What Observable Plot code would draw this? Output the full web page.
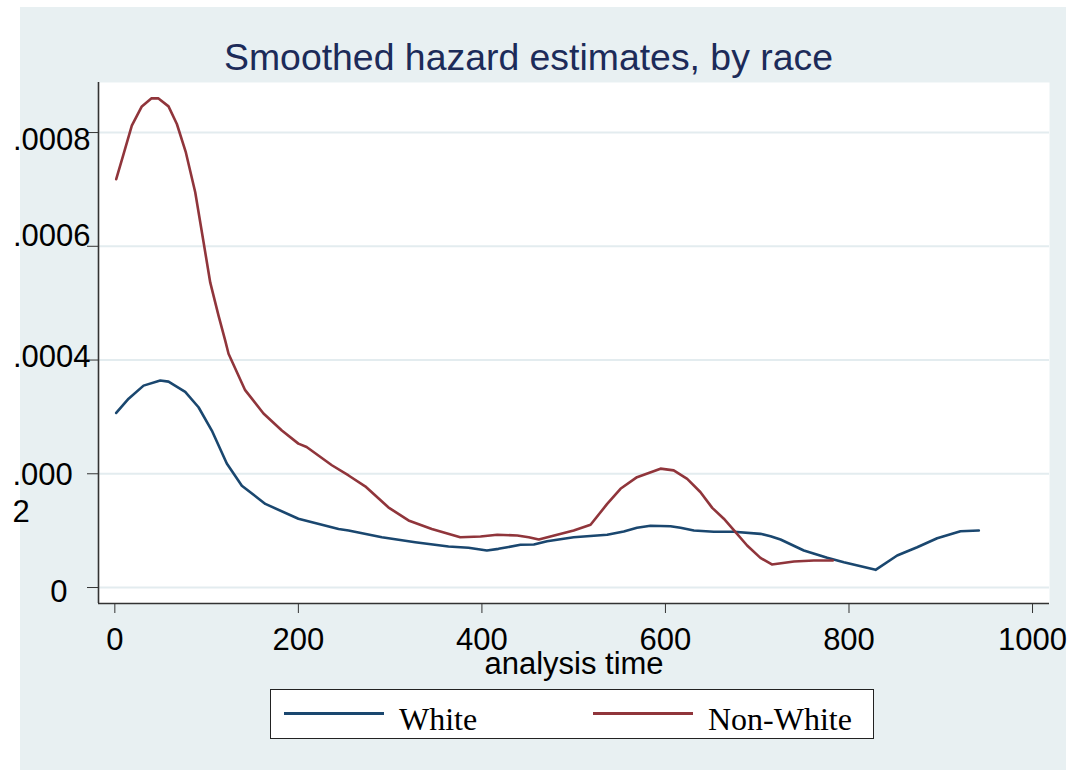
<!DOCTYPE html>
<html>
<head>
<meta charset="utf-8">
<script src="https://cdn.jsdelivr.net/npm/d3@7"></script>
<script src="https://cdn.jsdelivr.net/npm/@observablehq/plot@0.6"></script>
<style>
  html, body { margin: 0; padding: 0; background: #ffffff; }
  body { width: 1076px; height: 772px; position: relative; overflow: hidden; font-family: "Liberation Sans", Arial, sans-serif; }
  #panel { position: absolute; left: 20px; top: 7px; width: 1046px; height: 763px; background: #e8f0f2; }
  #title { position: absolute; left: 0; top: 32px; width: 1017px; text-align: center; font-size: 37.4px; line-height: 37px; color: #1c2b59; white-space: nowrap; }
  #chart { position: absolute; left: 0; top: 55px; }
  #legend { position: absolute; left: 250px; top: 682px; width: 604px; height: 50px; box-sizing: border-box; background: #fff; border: 1.5px solid #222; }
  .lg-line { position: absolute; height: 3px; top: 22px; width: 100px; }
  .lg-text { position: absolute; top: 12.7px; font-family: "Liberation Serif", "Times New Roman", serif; font-size: 32px; line-height: 32px; color: #000; white-space: nowrap; }
</style>
</head>
<body>
<div id="panel">
  <div id="title">Smoothed hazard estimates, by race</div>
  <div id="chart"></div>
  <div id="legend"></div>
</div>
<script>
// ---- data ----
const seriesNames = ["White", "Non-White"];
const seriesColors = ["#1a476f", "#90353b"];

const whiteTime = [1.5, 15, 31.3, 49.5, 58.5, 76.7, 91.2, 105.7, 122, 138.4, 164, 200, 243.8, 254.7, 291, 327.3, 363.6, 385.4, 405.4, 418, 427.6, 442, 456.6, 471, 500, 536.5, 554.6, 569, 583.7, 605.5, 616.4, 631, 652.7, 674.5, 703.6, 714.5, 725.4, 750.8, 776.3, 794.4, 829, 852.5, 874.3, 896.1, 921.5, 941.5];
const whiteHazard = [0.000307, 0.000332, 0.000355, 0.000364, 0.000362, 0.000344, 0.000317, 0.000276, 0.000218, 0.000179, 0.000147, 0.000121, 0.000103, 0.0001003, 0.0000885, 0.0000797, 0.0000721, 0.0000698, 0.0000651, 0.000068, 0.0000709, 0.0000751, 0.0000756, 0.0000814, 0.0000885, 0.0000927, 0.0000985, 0.000105, 0.0001085, 0.0001078, 0.000105, 0.0001003, 0.000098, 0.000098, 0.0000944, 0.0000903, 0.0000844, 0.0000651, 0.0000522, 0.0000445, 0.0000311, 0.0000563, 0.0000709, 0.0000867, 0.000099, 0.0001003];

const nonWhiteTime = [1.5, 9.5, 18.5, 29.4, 39.7, 47.6, 58.5, 67.6, 77.4, 87.6, 96.7, 104, 113, 120.3, 123.9, 142, 162, 182, 200, 209, 236.5, 254.7, 272.8, 298, 320, 345.4, 376.4, 398.5, 416.7, 438.5, 451, 462, 482, 500, 518.4, 536.5, 551, 569, 594.6, 609, 623.7, 638, 651, 663.6, 674.5, 689, 703.5, 716, 740, 761.7, 782.4];
const nonWhiteHazard = [0.000718, 0.000762, 0.000812, 0.000846, 0.00086, 0.00086, 0.000846, 0.000815, 0.000765, 0.000695, 0.000607, 0.000536, 0.000478, 0.000434, 0.000411, 0.000347, 0.000306, 0.000276, 0.000253, 0.000247, 0.000215, 0.000197, 0.000178, 0.000141, 0.000118, 0.000103, 0.0000885, 0.0000897, 0.0000927, 0.0000915, 0.0000885, 0.0000844, 0.0000927, 0.0001003, 0.0001103, 0.000147, 0.0001736, 0.000194, 0.000209, 0.000206, 0.000191, 0.000168, 0.00014, 0.000121, 0.000101, 0.0000739, 0.0000522, 0.0000405, 0.0000457, 0.0000475, 0.0000475];

const xTicks = [0, 200, 400, 600, 800, 1000];
const yTicks = [0, 0.0002, 0.0004, 0.0006, 0.0008];
const yTickLabels = ["0", ".000\n2", ".0004", ".0006", ".0008"];
const xTitle = "analysis time";

// per-label offsets (style only)
const yLabelStyle = [
  {dx: -31, dy: 3, anchor: "end"},
  {dx: -86, dy: 18, anchor: "start"},
  {dx: -8, dy: -5, anchor: "end"},
  {dx: -8, dy: -12, anchor: "end"},
  {dx: -8, dy: 6, anchor: "end"}
];

// ---- build table ----
const rows = [];
whiteTime.forEach((t, i) => rows.push({race: seriesNames[0], t, h: whiteHazard[i]}));
nonWhiteTime.forEach((t, i) => rows.push({race: seriesNames[1], t, h: nonWhiteHazard[i]}));

const xDomain = [-17.8, 1018.5];
const yDomain = [-0.0000281, 0.000888];
const axisColor = "#333";

const labelMarks = yTicks.map((v, i) => Plot.text([v], {
  y: d => d,
  text: () => yTickLabels[i],
  frameAnchor: "left",
  dx: yLabelStyle[i].dx,
  dy: yLabelStyle[i].dy,
  textAnchor: yLabelStyle[i].anchor,
  lineHeight: 1.2,
  fontSize: 31,
  fill: "#000"
}));

const chart = Plot.plot({
  width: 1046,
  height: 620,
  marginLeft: 78,
  marginRight: 17,
  marginTop: 20,
  marginBottom: 79,
  style: {background: "transparent", fontFamily: "'Liberation Sans', Arial, sans-serif", color: "#000", overflow: "visible"},
  x: {domain: xDomain},
  y: {domain: yDomain},
  color: {domain: seriesNames, range: seriesColors},
  marks: [
    Plot.frame({fill: "#ffffff", stroke: null}),
    Plot.gridY(yTicks, {stroke: "#e3ecef", strokeOpacity: 1, strokeWidth: 2}),
    Plot.line(rows, {x: "t", y: "h", z: "race", stroke: "race", strokeWidth: 2.6, curve: "linear"}),
    Plot.ruleX([xDomain[0]], {stroke: axisColor, strokeWidth: 1.6}),
    Plot.ruleY([yDomain[0]], {stroke: axisColor, strokeWidth: 1.6}),
    Plot.axisX({ticks: xTicks, tickSize: 10, tickPadding: 14, fontSize: 31, label: null, tickFormat: d => String(d), stroke: axisColor, fill: "#000"}),
    Plot.axisY({ticks: yTicks, tickSize: 11, label: null, tickFormat: () => "", stroke: axisColor}),
    ...labelMarks,
    Plot.text([xTitle], {text: d => d, frameAnchor: "bottom", dy: 70, lineAnchor: "bottom", fontSize: 31, fill: "#000"})
  ]
});
document.getElementById("chart").appendChild(chart);

// ---- legend ----
const legend = document.getElementById("legend");
const legendPos = [{line: 13, text: 128}, {line: 322, text: 437}];
seriesNames.forEach((name, i) => {
  const ln = document.createElement("div");
  ln.className = "lg-line";
  ln.style.left = legendPos[i].line + "px";
  ln.style.background = seriesColors[i];
  legend.appendChild(ln);
  const tx = document.createElement("div");
  tx.className = "lg-text";
  tx.style.left = legendPos[i].text + "px";
  tx.textContent = name;
  legend.appendChild(tx);
});
</script>
</body>
</html>
